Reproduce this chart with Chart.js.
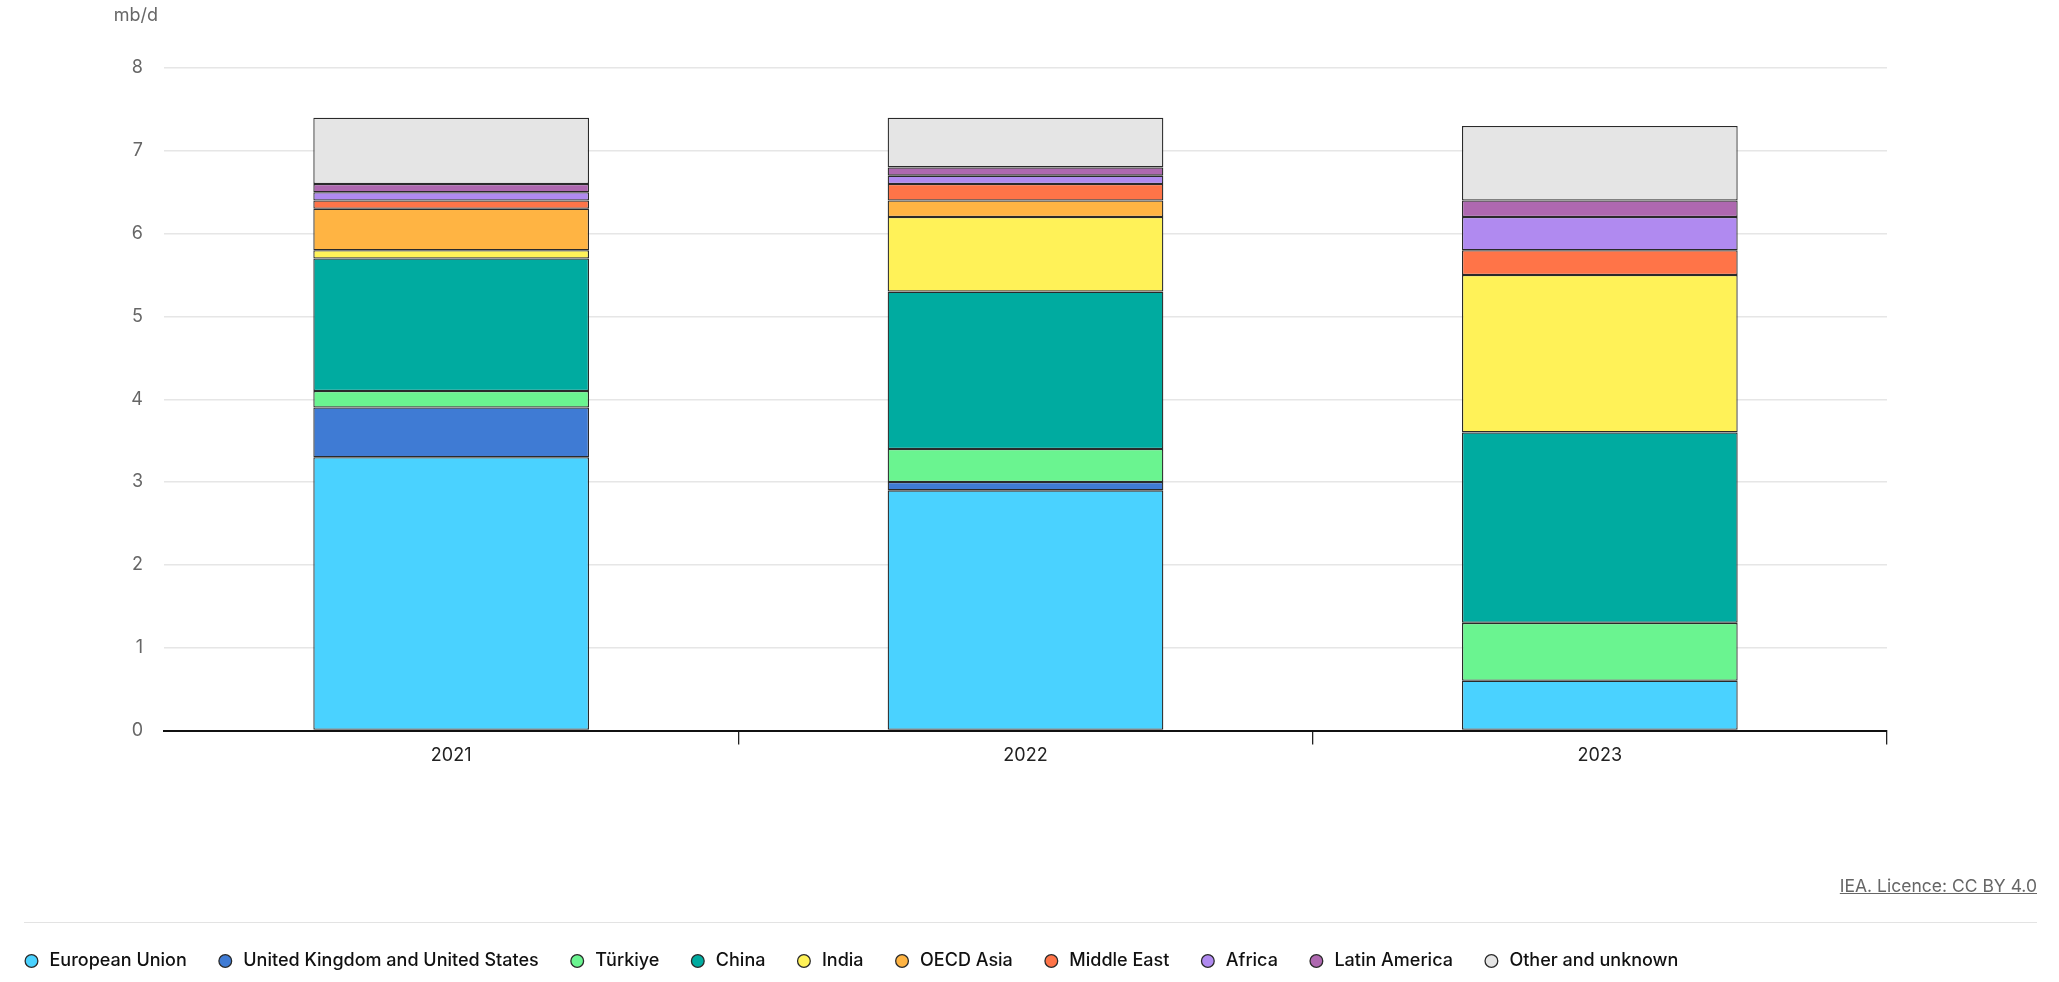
<!DOCTYPE html>
<html>
<head>
<meta charset="utf-8">
<script src="https://cdn.jsdelivr.net/npm/chart.js@4"></script>
<style>
  html, body { margin: 0; padding: 0; background: #fff; overflow: hidden; }
  #wrap { position: relative; width: 2059px; height: 980px; }
  #unit { position: absolute; right: calc(2059px - 158px); top: 4px; font: 18px Inter, sans-serif; color: #666; }
  #credit { position: absolute; right: 22px; top: 875px; font: 17.5px Inter, sans-serif; color: #666; text-decoration: underline; }
  #divider { position: absolute; left: 24px; right: 22px; top: 922px; height: 0; border-top: 1.5px solid #e3e3e3; }
</style>
</head>
<body>
<div id="wrap">
  <canvas id="c"></canvas>
  <div id="unit">mb/d</div>
  <div id="credit">IEA. Licence: CC BY 4.0</div>
  <div id="divider"></div>
</div>
<script>
const years = ['2021', '2022', '2023'];
const seriesNames = ['European Union', 'United Kingdom and United States', 'Türkiye', 'China', 'India', 'OECD Asia', 'Middle East', 'Africa', 'Latin America', 'Other and unknown'];
const europeanUnion = [3.3, 2.9, 0.6];
const ukUs = [0.6, 0.1, 0];
const turkiye = [0.2, 0.4, 0.7];
const china = [1.6, 1.9, 2.3];
const india = [0.1, 0.9, 1.9];
const oecdAsia = [0.5, 0.2, 0];
const middleEast = [0.1, 0.2, 0.3];
const africa = [0.1, 0.1, 0.4];
const latinAmerica = [0.1, 0.1, 0.2];
const otherUnknown = [0.8, 0.6, 0.9];
const yTicks = [0, 1, 2, 3, 4, 5, 6, 7, 8];
const colors = ['#4ad2ff', '#3f7bd4', '#6af490', '#00aba0', '#fff258', '#ffb443', '#ff7448', '#b08af0', '#ae68b0', '#e5e5e5'];

const values = [europeanUnion, ukUs, turkiye, china, india, oecdAsia, middleEast, africa, latinAmerica, otherUnknown];

const datasets = values.map((v, i) => ({
  label: seriesNames[i],
  data: v,
  backgroundColor: colors[i],
  borderColor: '#2a2a2a',
  borderWidth: 1.3,
  borderSkipped: false,
  barPercentage: 0.48,
  categoryPercentage: 1.0
}));

Chart.defaults.font.family = 'Inter, sans-serif';

new Chart(document.getElementById('c'), {
  type: 'bar',
  data: { labels: years, datasets },
  options: {
    responsive: true,
    maintainAspectRatio: false,
    animation: false,
    layout: { padding: { top: 68, right: 172, left: -7, bottom: 0 } },
    plugins: {
      tooltip: { enabled: false },
      legend: {
        position: 'bottom',
        align: 'start',
        labels: {
          usePointStyle: true,
          pointStyle: 'circle',
          boxWidth: 18,
          boxHeight: 9,
          padding: 29.5,
          color: '#111',
          font: { size: 18, weight: 500 }
        }
      }
    },
    scales: {
      x: {
        stacked: true,
        grid: {
          display: true,
          drawOnChartArea: false,
          drawTicks: true,
          tickLength: 14,
          offset: true,
          color: (ctx) => ctx.index === 0 ? 'rgba(0,0,0,0)' : '#222',
          lineWidth: 1.3
        },
        border: { display: true, color: '#111', width: 2 },
        ticks: { color: '#222', font: { size: 18 }, padding: 0 },
        afterFit: (scale) => { scale.height = 192; }
      },
      y: {
        stacked: true,
        min: 0,
        max: 8,
        afterBuildTicks: (scale) => { scale.ticks = yTicks.map(v => ({ value: v })); },
        grid: { color: '#e6e6e6', lineWidth: 1.5, drawTicks: false },
        border: { display: false },
        ticks: { color: '#666', font: { size: 18 }, padding: 21 },
        afterFit: (scale) => { scale.width = 171; }
      }
    }
  }
});
</script>
</body>
</html>
